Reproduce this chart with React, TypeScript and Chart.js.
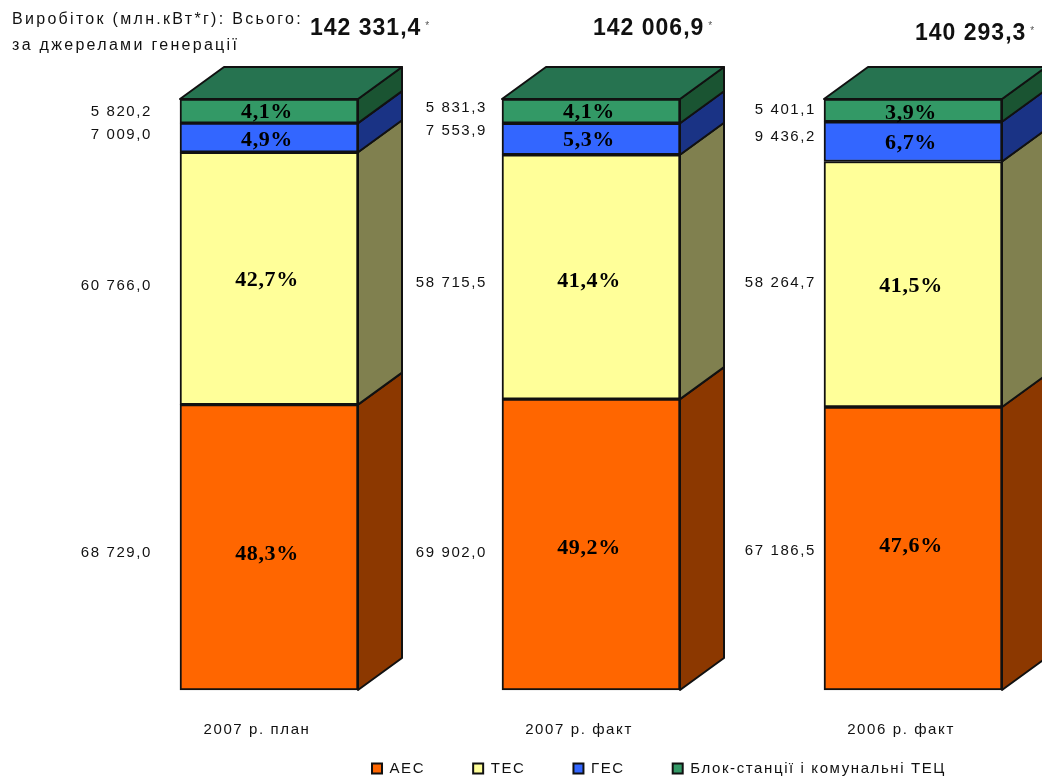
import React, { useEffect, useRef } from "react";
import { Chart, registerables } from "chart.js";

Chart.register(...registerables);

const categories = ["2007 р. план", "2007 р. факт", "2006 р. факт"];
const aes = [68729.0, 69902.0, 67186.5];
const tes = [60766.0, 58715.5, 58264.7];
const ges = [7009.0, 7553.9, 9436.2];
const tec = [5820.2, 5831.3, 5401.1];
const aesPct = ["48,3%", "49,2%", "47,6%"];
const tesPct = ["42,7%", "41,4%", "41,5%"];
const gesPct = ["4,9%", "5,3%", "6,7%"];
const tecPct = ["4,1%", "4,1%", "3,9%"];
const totals = ["142 331,4", "142 006,9", "140 293,3"];

const seriesNames = ["АЕС", "ТЕС", "ГЕС", "Блок-станції і комунальні ТЕЦ"];
const seriesValues = [aes, tes, ges, tec];
const seriesPct = [aesPct, tesPct, gesPct, tecPct];
const frontColors = ["#FF6600", "#FFFF99", "#3366FF", "#339966"];
const sideColors = ["#8C3800", "#80804F", "#1A3385", "#1A5432"];
const topColor = "#267350";

// label nudges relative to segment centre / bar edge: [series][column]
const valueNudgeY = [[6, 8, 2], [7, 6, -1], [-3, -8, -5], [1, -3, -1]];
const pctNudgeY = [[7, 4, -2], [2, 4, 2], [3, 1, 2], [1, 1, 3]];
const valueRightGap = [28, 15, 8];
const totalBoxes = [
  { x: 310, y: 29 },
  { x: 593, y: 29 },
  { x: 915, y: 34 },
];
const DEPTH_X = 44;
const DEPTH_Y = 32;
const INK = "#111";
const SANS = "'Liberation Sans'";

const fmt = (v: number) => {
  const [a, b] = v.toFixed(1).split(".");
  return a.replace(/\B(?=(\d{3})+$)/g, " ") + "," + b;
};

const sumAt = (i: number) => seriesValues.reduce((s, arr) => s + arr[i], 0);

const solidPlugin = {
  id: "solid3d",
  beforeLayout(chart: any) {
    chart.ctx.letterSpacing = "1.6px";
  },
  afterLayout(chart: any) {
    // Legend sits low and further right than the centred default.
    chart.legend.left = 276;
    chart.legend.right = 1042;
    chart.legend.top = 713;
    chart.legend.bottom = 778;
  },
  beforeDatasetsDraw(chart: any) {
    const c = chart.ctx;
    c.save();
    c.lineWidth = 2;
    c.lineJoin = "round";
    c.strokeStyle = INK;
    chart.data.datasets.forEach((_: any, di: number) => {
      chart.getDatasetMeta(di).data.forEach((bar: any) => {
        const r = bar.x + bar.width / 2;
        const t = bar.y;
        const b = bar.base;
        c.fillStyle = sideColors[di];
        c.beginPath();
        c.moveTo(r, t);
        c.lineTo(r + DEPTH_X, t - DEPTH_Y);
        c.lineTo(r + DEPTH_X, b - DEPTH_Y);
        c.lineTo(r, b);
        c.closePath();
        c.fill();
        c.stroke();
        if (di === chart.data.datasets.length - 1) {
          const l = bar.x - bar.width / 2;
          c.fillStyle = topColor;
          c.beginPath();
          c.moveTo(l, t);
          c.lineTo(l + DEPTH_X, t - DEPTH_Y);
          c.lineTo(r + DEPTH_X, t - DEPTH_Y);
          c.lineTo(r, t);
          c.closePath();
          c.fill();
          c.stroke();
        }
      });
    });
    c.restore();
  },
  afterDatasetsDraw(chart: any) {
    const c = chart.ctx;
    c.save();
    c.textBaseline = "middle";
    chart.data.datasets.forEach((_: any, di: number) => {
      chart.getDatasetMeta(di).data.forEach((bar: any, i: number) => {
        const mid = (bar.y + bar.base) / 2;
        c.letterSpacing = "0.6px";
        c.font = "bold 22px 'Liberation Serif'";
        c.fillStyle = "#000";
        c.textAlign = "center";
        c.fillText(seriesPct[di][i], bar.x - 2, mid + pctNudgeY[di][i]);
        c.letterSpacing = "1.6px";
        c.font = `15px ${SANS}`;
        c.fillStyle = INK;
        c.textAlign = "right";
        c.fillText(
          fmt(seriesValues[di][i]),
          bar.x - bar.width / 2 - valueRightGap[i],
          mid + valueNudgeY[di][i]
        );
      });
    });
    // Heading
    c.textAlign = "left";
    c.fillStyle = INK;
    c.font = `16px ${SANS}`;
    c.letterSpacing = "2.3px";
    c.fillText("Виробіток (млн.кВт*г): Всього:", 12, 20);
    c.fillText("за джерелами генерації", 12, 46);
    totalBoxes.forEach((p, i) => {
      c.letterSpacing = "1px";
      c.font = `bold 23px ${SANS}`;
      c.fillStyle = INK;
      c.fillText(totals[i], p.x, p.y);
      const w = c.measureText(totals[i]).width;
      c.letterSpacing = "0px";
      c.font = `10px ${SANS}`;
      c.fillStyle = "#555";
      c.fillText("*", p.x + w + 4, p.y - 3);
    });
    c.restore();
  },
};

export default function App() {
  const ref = useRef<HTMLCanvasElement>(null);
  useEffect(() => {
    const chart = new Chart(ref.current as HTMLCanvasElement, {
      type: "bar",
      data: {
        labels: categories,
        datasets: seriesNames.map((name, di) => ({
          label: name,
          data: seriesValues[di].map((v, i) => (v / sumAt(i)) * 100),
          backgroundColor: frontColors[di],
          borderColor: INK,
          borderWidth: 2,
          borderSkipped: false,
          barThickness: 178,
          clip: false as any,
        })),
      },
      options: {
        animation: false,
        responsive: false,
        devicePixelRatio: 1,
        layout: { padding: { left: 108, right: 0, top: 99, bottom: -57 } },
        scales: {
          x: {
            stacked: true,
            offset: true,
            grid: { display: false },
            border: { display: false },
            ticks: {
              autoSkip: false,
              maxRotation: 0,
              labelOffset: -12,
              padding: 23,
              color: INK,
              font: { family: SANS, size: 15 },
            },
          },
          y: { stacked: true, display: false, min: 0, max: 100 },
        },
        plugins: {
          tooltip: { enabled: false },
          title: { display: false },
          legend: {
            display: true,
            position: "bottom",
            labels: {
              boxWidth: 10,
              boxHeight: 10,
              padding: 48,
              color: INK,
              font: { family: SANS, size: 15 },
            },
          },
        },
      },
      plugins: [solidPlugin as any],
    });
    return () => chart.destroy();
  }, []);
  return (
    <div style={{ position: "absolute", left: 0, top: 0, width: 1042, height: 778, overflow: "hidden" }}>
      <canvas ref={ref} width={1074} height={778} style={{ display: "block" }} />
    </div>
  );
}
